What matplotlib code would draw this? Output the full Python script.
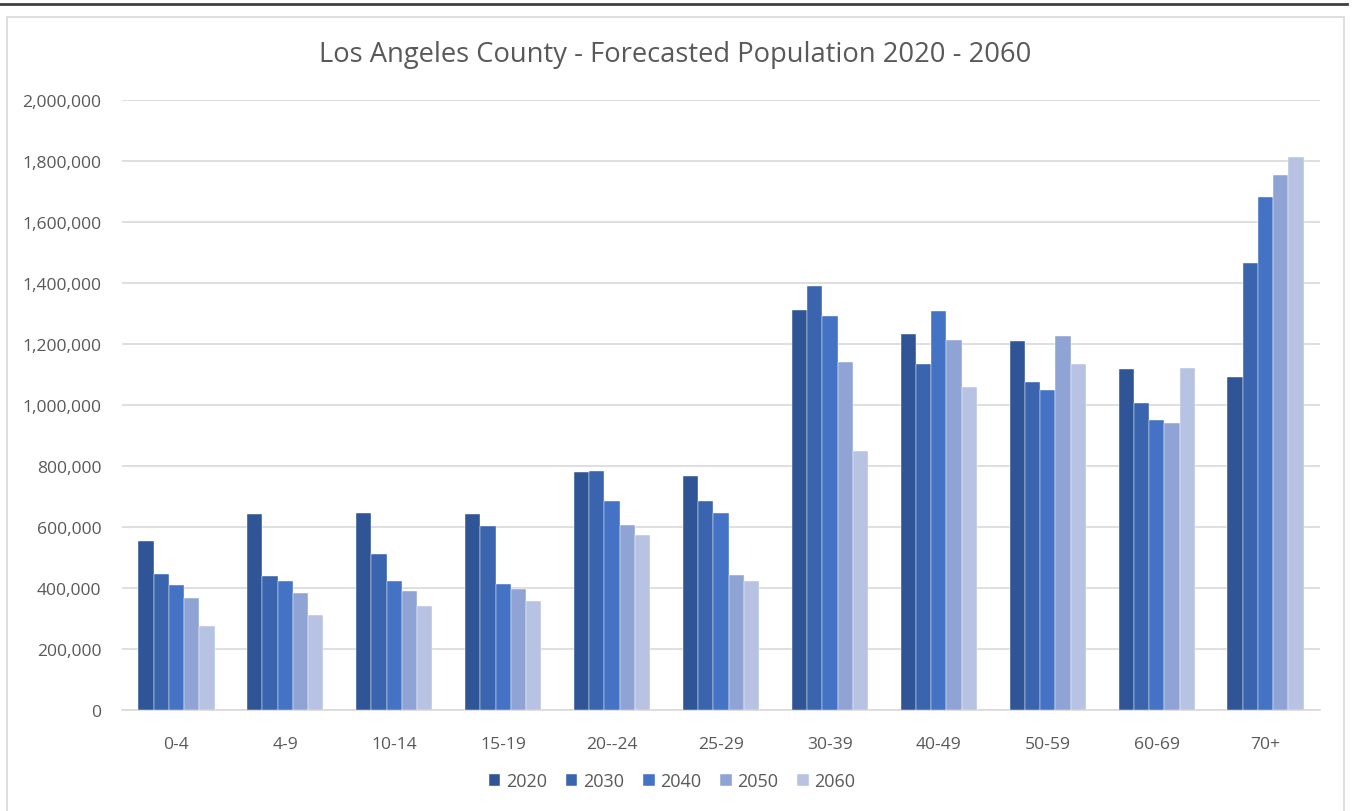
import matplotlib
matplotlib.use("Agg")
import matplotlib.pyplot as plt
from matplotlib.patches import Rectangle
from matplotlib.lines import Line2D
from matplotlib.ticker import FuncFormatter
import numpy as np

age_groups = ["0-4", "4-9", "10-14", "15-19", "20--24", "25-29", "30-39",
              "40-49", "50-59", "60-69", "70+"]
years = ["2020", "2030", "2040", "2050", "2060"]

pop_2020 = [554000, 643000, 645000, 643000, 780000, 767000, 1310000, 1233000, 1211000, 1118000, 1093000]
pop_2030 = [446000, 439000, 512000, 603000, 782000, 686000, 1391000, 1135000, 1074000, 1008000, 1466000]
pop_2040 = [409000, 424000, 424000, 413000, 686000, 645000, 1293000, 1307000, 1049000, 951000, 1681000]
pop_2050 = [366000, 384000, 389000, 398000, 605000, 444000, 1140000, 1213000, 1225000, 940000, 1754000]
pop_2060 = [275000, 311000, 342000, 356000, 573000, 424000, 849000, 1058000, 1135000, 1120000, 1812000]

series = [pop_2020, pop_2030, pop_2040, pop_2050, pop_2060]
colors = ["#2F5597", "#3A64AE", "#4472C4", "#8FA4D5", "#B8C3E3"]

plt.rcParams["font.family"] = ["Open Sans", "DejaVu Sans"]
text_color = "#595959"

W, H = 1356, 812
fig = plt.figure(figsize=(W / 100, H / 100), dpi=100)

# chart frame and page rule
fig.add_artist(Rectangle((7 / W, -0.01), (1344 - 7) / W, 1 - 18 / H + 0.01,
                         transform=fig.transFigure, fill=False,
                         edgecolor="#D9D9D9", linewidth=1.2))
fig.add_artist(Line2D([0, 1347 / W], [1 - 5 / H, 1 - 5 / H],
                      transform=fig.transFigure, color="#404040", linewidth=2))

ax = fig.add_axes([122 / W, 1 - 711 / H, (1320 - 122) / W, (711 - 101) / H])

n = len(age_groups)
x = np.arange(n)
bw = 0.14
for i, (vals, col, yr) in enumerate(zip(series, colors, years)):
    offs = (i - 2) * bw
    ax.bar(x + offs, vals, width=bw, color=col, label=yr,
           edgecolor="#FFFFFF", linewidth=0.3, zorder=3)

ax.set_xlim(-0.5, n - 0.5)
ax.set_ylim(0, 2000000)
ax.set_yticks(np.arange(0, 2000001, 200000))
ax.yaxis.set_major_formatter(FuncFormatter(lambda v, p: f"{int(v):,}"))
ax.set_xticks(x)
ax.set_xticklabels(age_groups)
ax.grid(axis="y", color="#D9D9D9", linewidth=1.2, zorder=0)
ax.set_axisbelow(True)
for s in ["top", "right", "left"]:
    ax.spines[s].set_visible(False)
ax.spines["bottom"].set_color("#D9D9D9")
ax.spines["bottom"].set_linewidth(1.2)
ax.tick_params(axis="both", length=0, labelsize=12.6, colors=text_color)
ax.tick_params(axis="y", pad=15)
ax.tick_params(axis="x", pad=19)

fig.text(675 / W, 1 - 55 / H, "Los Angeles County - Forecasted Population 2020 - 2060",
         ha="center", va="center", fontsize=19.7, color=text_color)

leg = fig.legend(loc="center", bbox_to_anchor=(672 / W, 1 - 782 / H), ncol=5,
                 frameon=False, fontsize=13, handlelength=0.65, handleheight=0.65,
                 handletextpad=0.3, columnspacing=1.05)
for t in leg.get_texts():
    t.set_color(text_color)

fig.savefig("out.png", dpi=100)
